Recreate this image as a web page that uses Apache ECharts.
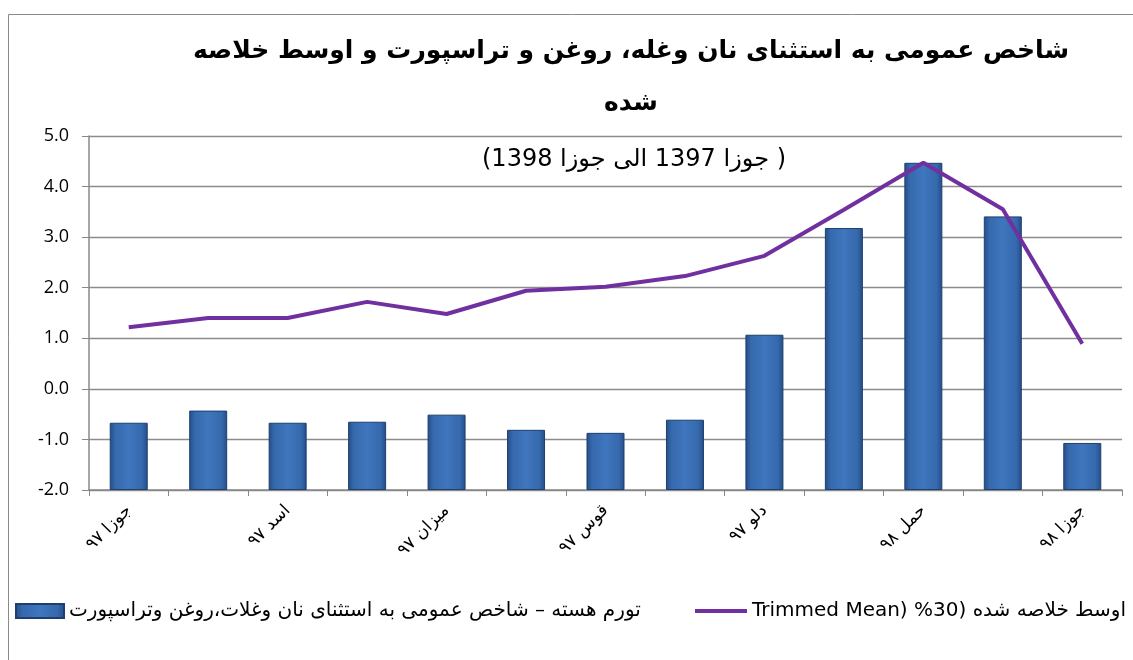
<!DOCTYPE html>
<html>
<head>
<meta charset="utf-8">
<script src="https://cdn.jsdelivr.net/npm/echarts@6/dist/echarts.min.js"></script>
<style>
    html, body { margin: 0; padding: 0; background: #fff; }
    #main { width: 1133px; height: 660px; }
</style>
</head>
<body>
<div id="main"></div>
<script>
    // ماه ها: جوزا ۹۷ تا جوزا ۹۸
    var months = ['جوزا ۹۷', 'سرطان ۹۷', 'اسد ۹۷', 'سنبله ۹۷', 'میزان ۹۷', 'عقرب ۹۷', 'قوس ۹۷',
                  'جدی ۹۷', 'دلو ۹۷', 'حوت ۹۷', 'حمل ۹۸', 'ثور ۹۸', 'جوزا ۹۸'];
    // تورم هسته (ستون)
    var coreValues = [-0.67, -0.43, -0.67, -0.65, -0.51, -0.81, -0.87, -0.61, 1.07, 3.18, 4.47, 3.41, -1.07];
    // اوسط خلاصه شده (خط)
    var trimmedValues = [1.22, 1.40, 1.40, 1.72, 1.48, 1.94, 2.02, 2.23, 2.63, 3.54, 4.47, 3.55, 0.89];
    var yTicks = { min: -2, max: 5, step: 1 };

    var barName = 'تورم هسته – شاخص عمومی به استثنای نان وغلات،روغن وتراسپورت';
    var lineName = '\u202Bاوسط خلاصه شده (30% (Trimmed Mean\u202C';
    var fa = '"DejaVu Sans", sans-serif';

    var myChart = echarts.init(document.getElementById('main'));
    var option = {
        backgroundColor: '#fff',
        animation: false,
        title: [{
            text: 'شاخص عمومی به استثنای نان وغله، روغن و تراسپورت و اوسط خلاصه\nشده',
            left: 626,
            top: 20,
            textAlign: 'center',
            textStyle: { fontFamily: fa, fontSize: 25, fontWeight: 'bold', color: '#000', lineHeight: 52 }
        }, {
            text: '\u202B( جوزا 1397 الی جوزا 1398)\u202C',
            left: 629,
            top: 143,
            textAlign: 'center',
            textStyle: { fontFamily: fa, fontSize: 24, fontWeight: 'normal', color: '#000' }
        }],
        graphic: [{
            type: 'rect',
            left: 6, top: 12,
            shape: { width: 1140, height: 700 },
            style: { fill: 'none', stroke: '#8a8a8a', lineWidth: 1 },
            silent: true
        }],
        legend: [{
            left: 10,
            top: 596,
            itemWidth: 48,
            itemHeight: 14,
            textStyle: { fontFamily: fa, fontSize: 20, color: '#000' },
            data: [{ name: barName, icon: 'rect' }]
        }, {
            left: 688,
            top: 596,
            itemWidth: 52,
            itemHeight: 14,
            lineStyle: { width: 4, color: '#7030a0' },
            textStyle: { fontFamily: fa, fontSize: 20, color: '#000' },
            data: [{ name: lineName, itemStyle: { opacity: 0 } }]
        }],
        grid: { left: 89, right: 11, top: 136, bottom: 170, containLabel: false },
        xAxis: {
            type: 'category',
            data: months,
            boundaryGap: true,
            axisLine: { onZero: false, lineStyle: { color: '#888', width: 1.5 } },
            axisTick: { show: true, interval: 0, length: 6, lineStyle: { color: '#888' } },
            axisLabel: {
                interval: 1,
                rotate: 45,
                margin: 18,
                fontFamily: fa,
                fontSize: 17,
                color: '#000'
            }
        },
        yAxis: {
            type: 'value',
            min: yTicks.min,
            max: yTicks.max,
            interval: yTicks.step,
            startValue: yTicks.min,
            axisLine: { show: true, lineStyle: { color: '#888', width: 1.5 } },
            axisTick: { show: true, length: 7, lineStyle: { color: '#888' } },
            axisLabel: {
                margin: 20,
                fontFamily: '"Open Sans", sans-serif',
                fontSize: 18,
                color: '#000',
                formatter: function (v) { return v.toFixed(1); }
            },
            splitLine: { lineStyle: { color: '#8c8c8c', width: 1.3 } }
        },
        series: [{
            name: barName,
            type: 'bar',
            data: coreValues,
            barWidth: 38,
            itemStyle: {
                color: new echarts.graphic.LinearGradient(0, 0, 1, 0, [
                    { offset: 0, color: '#244d86' },
                    { offset: 0.15, color: '#3669ad' },
                    { offset: 0.5, color: '#3f76bd' },
                    { offset: 0.85, color: '#3669ad' },
                    { offset: 1, color: '#244d86' }
                ]),
                borderColor: '#1e3f6e',
                borderWidth: 1
            }
        }, {
            name: lineName,
            type: 'line',
            data: trimmedValues,
            symbol: 'none',
            lineStyle: { color: '#7030a0', width: 4 },
            itemStyle: { color: '#7030a0' },
            z: 5
        }]
    };
    myChart.setOption(option);
</script>
</body>
</html>
